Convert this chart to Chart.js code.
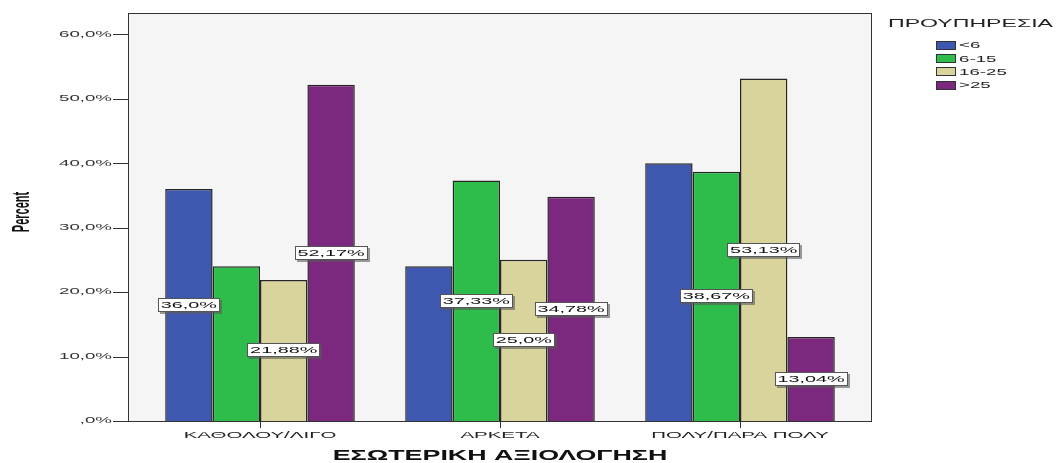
<!DOCTYPE html>
<html>
<head>
<meta charset="utf-8">
<script src="https://cdn.jsdelivr.net/npm/chart.js@4"></script>
<style>
  html, body { margin: 0; padding: 0; background: #ffffff; }
  canvas { display: block; }
</style>
</head>
<body>
<canvas id="chart" width="1064" height="463"></canvas>
<script>
  // 범주 / 계열 데이터
  const categories = ['ΚΑΘΟΛΟΥ/ΛΙΓΟ', 'ΑΡΚΕΤΑ', 'ΠΟΛΥ/ΠΑΡΑ ΠΟΛΥ'];
  const seriesNames = ['<6', '6-15', '16-25', '>25'];
  const lessThan6 = [36.0, 24.0, 40.0];
  const from6to15 = [24.0, 37.33, 38.67];
  const from16to25 = [21.88, 25.0, 53.13];
  const over25 = [52.17, 34.78, 13.04];
  // which bars carry a value box in the original
  const shownLabels = [
    [true, false, false],
    [false, true, true],
    [true, true, true],
    [true, true, true],
  ];
  const yTicks = [0, 10, 20, 30, 40, 50, 60];

  const seriesValues = [lessThan6, from6to15, from16to25, over25];
  const seriesColors = ['#3d58ae', '#2ebd4a', '#d8d49c', '#7d287f'];

  const FONT = "'Liberation Sans', Arial, sans-serif";
  const SX = 2.2; // the picture's text is stretched sideways
  const SX_BOLD = 1.85;

  function pct(v) {
    let s = Number.isInteger(v) ? v.toFixed(1) : String(v);
    s = s.replace(/^0\./, '.');
    return s.replace('.', ',') + '%';
  }

  const canvas = document.getElementById('chart');
  const ctx = canvas.getContext('2d');
  const origFill = CanvasRenderingContext2D.prototype.fillText;
  const origMeasure = CanvasRenderingContext2D.prototype.measureText;
  function stretchOf(c) {
    return /bold/.test(c.font) ? SX_BOLD : SX;
  }
  ctx.fillText = function (t, x, y) {
    this.save();
    this.translate(x, y);
    this.scale(stretchOf(this), 1);
    origFill.call(this, t, 0, 0);
    this.restore();
  };
  ctx.measureText = function (t) {
    const m = origMeasure.call(this, t);
    const k = stretchOf(this);
    return {
      width: m.width * k,
      actualBoundingBoxAscent: m.actualBoundingBoxAscent,
      actualBoundingBoxDescent: m.actualBoundingBoxDescent,
      actualBoundingBoxLeft: m.actualBoundingBoxLeft * k,
      actualBoundingBoxRight: m.actualBoundingBoxRight * k,
    };
  };

  // plot frame, tick marks, value boxes, legend
  const spssPlugin = {
    id: 'spss',
    beforeDraw(chart) {
      const a = chart.chartArea;
      const c = chart.ctx;
      c.save();
      c.fillStyle = '#f5f5f5';
      c.fillRect(a.left - 12, a.top, a.right - a.left + 24, a.bottom - a.top);
      c.restore();
    },
    afterDatasetsDraw(chart) {
      const a = chart.chartArea;
      const c = chart.ctx;
      c.save();
      c.strokeStyle = '#333';
      c.lineWidth = 1;
      c.strokeRect(a.left - 12 + 0.5, a.top + 0.5, a.right - a.left + 23, a.bottom - a.top);

      c.font = '9px ' + FONT;
      c.textAlign = 'center';
      c.textBaseline = 'middle';
      seriesValues.forEach(function (vals, i) {
        const meta = chart.getDatasetMeta(i);
        meta.data.forEach(function (bar, j) {
          if (!shownLabels[i][j]) return;
          const text = pct(vals[j]);
          const w = Math.round(c.measureText(text).width + 6);
          const h = 14;
          const x = Math.round(bar.x - w / 2);
          const y = Math.round((bar.y + bar.base) / 2 - h / 2);
          c.fillStyle = 'rgba(90,90,90,0.6)';
          c.fillRect(x + 2, y + 2, w, h);
          c.fillStyle = '#ffffff';
          c.fillRect(x, y, w, h);
          c.strokeStyle = '#555';
          c.strokeRect(x + 0.5, y + 0.5, w - 1, h - 1);
          c.fillStyle = '#111';
          c.fillText(text, bar.x, y + h / 2 + 0.5);
        });
      });
      c.restore();
    },
    afterDraw(chart) {
      const a = chart.chartArea;
      const c = chart.ctx;
      const yScale = chart.scales.y;
      c.save();
      // y tick marks
      c.strokeStyle = '#333';
      c.lineWidth = 1;
      yScale.ticks.forEach(function (t) {
        const py = Math.round(yScale.getPixelForValue(t.value)) + 0.5;
        c.beginPath();
        c.moveTo(a.left - 27, py);
        c.lineTo(a.left - 12, py);
        c.stroke();
      });

      // y axis title
      c.save();
      c.translate(22, (a.top + a.bottom) / 2 - 5);
      c.rotate(-Math.PI / 2);
      c.scale(1, SX);
      c.font = 'bold 11px ' + FONT;
      c.fillStyle = '#111';
      c.textAlign = 'center';
      c.textBaseline = 'middle';
      origFill.call(c, 'Percent', 0, 0);
      c.restore();

      // legend
      c.fillStyle = '#222';
      c.textAlign = 'left';
      c.textBaseline = 'middle';
      c.font = '10.5px ' + FONT;
      c.fillText('ΠΡΟΥΠΗΡΕΣΙΑ', 888, 24);
      c.font = '8.5px ' + FONT;
      seriesNames.forEach(function (name, i) {
        const by = 41 + i * 13.2;
        c.fillStyle = seriesColors[i];
        c.fillRect(936, Math.round(by), 20, 9);
        c.strokeStyle = '#333';
        c.strokeRect(936.5, Math.round(by) + 0.5, 19, 8);
        c.fillStyle = '#222';
        c.fillText(name, 959, by + 5);
      });
      c.restore();
    },
  };

  const datasets = seriesNames.map(function (name, i) {
    return {
      label: name,
      data: seriesValues[i],
      backgroundColor: seriesColors[i],
      borderColor: '#262626',
      borderWidth: 1.5,
      categoryPercentage: 0.79,
      barPercentage: 1.0,
    };
  });

  new Chart(canvas, {
    type: 'bar',
    data: { labels: categories, datasets: datasets },
    options: {
      responsive: false,
      animation: false,
      devicePixelRatio: 1,
      layout: { autoPadding: false, padding: { top: 13, right: 204, bottom: 0, left: 0 } },
      plugins: {
        legend: { display: false },
        tooltip: { enabled: false },
      },
      scales: {
        x: {
          grid: {
            display: true,
            drawOnChartArea: false,
            drawTicks: true,
            tickLength: 7,
            offset: false,
            color: '#333',
          },
          border: { display: false },
          ticks: { font: { family: FONT, size: 9.3 }, color: '#222', padding: 2, maxRotation: 0 },
          title: {
            display: true,
            text: 'ΕΣΩΤΕΡΙΚΗ ΑΞΙΟΛΟΓΗΣΗ',
            color: '#111',
            font: { family: FONT, size: 14.5, weight: 'bold', lineHeight: 1 },
            padding: { top: 0, bottom: 0 },
          },
          afterFit: function (scale) {
            scale.height = 42;
            scale.paddingLeft = 0;
            scale.paddingRight = 0;
          },
        },
        y: {
          min: 0,
          max: 63.3,
          grid: { display: false, drawTicks: false },
          border: { display: false },
          ticks: {
            font: { family: FONT, size: 8.5 },
            color: '#333',
            padding: 28,
            callback: function (v) {
              return pct(v);
            },
          },
          afterBuildTicks: function (scale) {
            scale.ticks = yTicks.map(function (v) {
              return { value: v };
            });
          },
          afterFit: function (scale) {
            scale.width = 140;
            scale.paddingTop = 0;
            scale.paddingBottom = 0;
          },
        },
      },
    },
    plugins: [spssPlugin],
  });
</script>
</body>
</html>
